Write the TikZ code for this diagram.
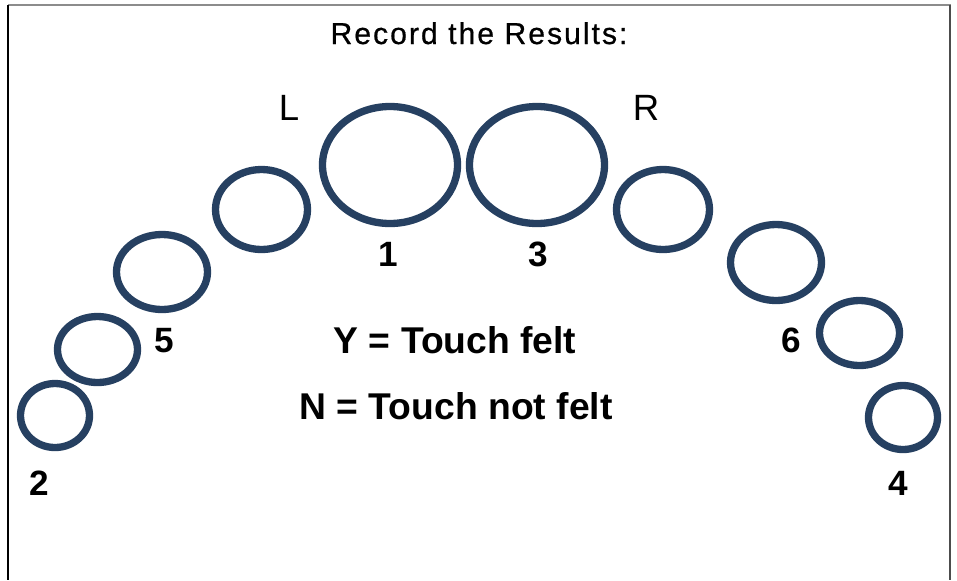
\documentclass[tikz,border=0pt]{standalone}
\usepackage{xcolor}
\usepackage{fontspec}
\setmainfont{Liberation Sans}
\usepackage{tikz}
\definecolor{padblue}{RGB}{38,64,97}

\begin{document}
\begin{tikzpicture}[x=0.025cm,y=-0.025cm,
  pad/.style={padblue,line width=5.2pt},
  num/.style={font=\fontsize{25}{25}\selectfont\bfseries,inner sep=0pt,anchor=base},
  side/.style={font=\fontsize{26}{26}\selectfont,inner sep=0pt,anchor=base},
  key/.style={font=\fontsize{26.5}{26.5}\selectfont\bfseries,inner sep=0pt,anchor=base}]
\useasboundingbox (0,0) rectangle (957,580);
\draw[black!45,line width=1.5pt] (8,5)--(951,5);
\draw[black,line width=1.2pt] (8,5)--(8,580);
\draw[black!70,line width=1.5pt] (950,5)--(950,580);
\foreach \cx/\cy/\rx/\ry in {390/165/67.5/58.5, 537/165/67.5/58.5,
  261.5/209.5/46/40, 162/272/45.5/37.5, 97.5/349.5/40/33, 55/415.5/34.5/32,
  663/209.5/46.5/40, 776/262.5/45.5/38, 859.5/333/40/32.5, 903/417.5/34.5/32} {
 \draw[pad] (\cx,\cy) ellipse [x radius=\rx, y radius=\ry];
}
\node[font=\fontsize{21.5}{21.5}\selectfont\addfontfeature{LetterSpace=6.5,FakeBold=0.6},inner sep=0pt,anchor=base] (title) at (479,44) {Record the Results:};
\node[side] (left) at (289,120) {L};
\node[side] (right) at (646,120) {R};
\foreach \n/\x/\y in {1/388/266, 3/538/266, 5/164/352, 6/791/352, 2/39/495, 4/898/495} {
 \node[num] (d\n) at (\x,\y) {\n};
}
\node[key] (yes) at (455,353) {Y = Touch felt};
\node[key] (no) at (456,419) {N = Touch not felt};
\end{tikzpicture}
\end{document}
